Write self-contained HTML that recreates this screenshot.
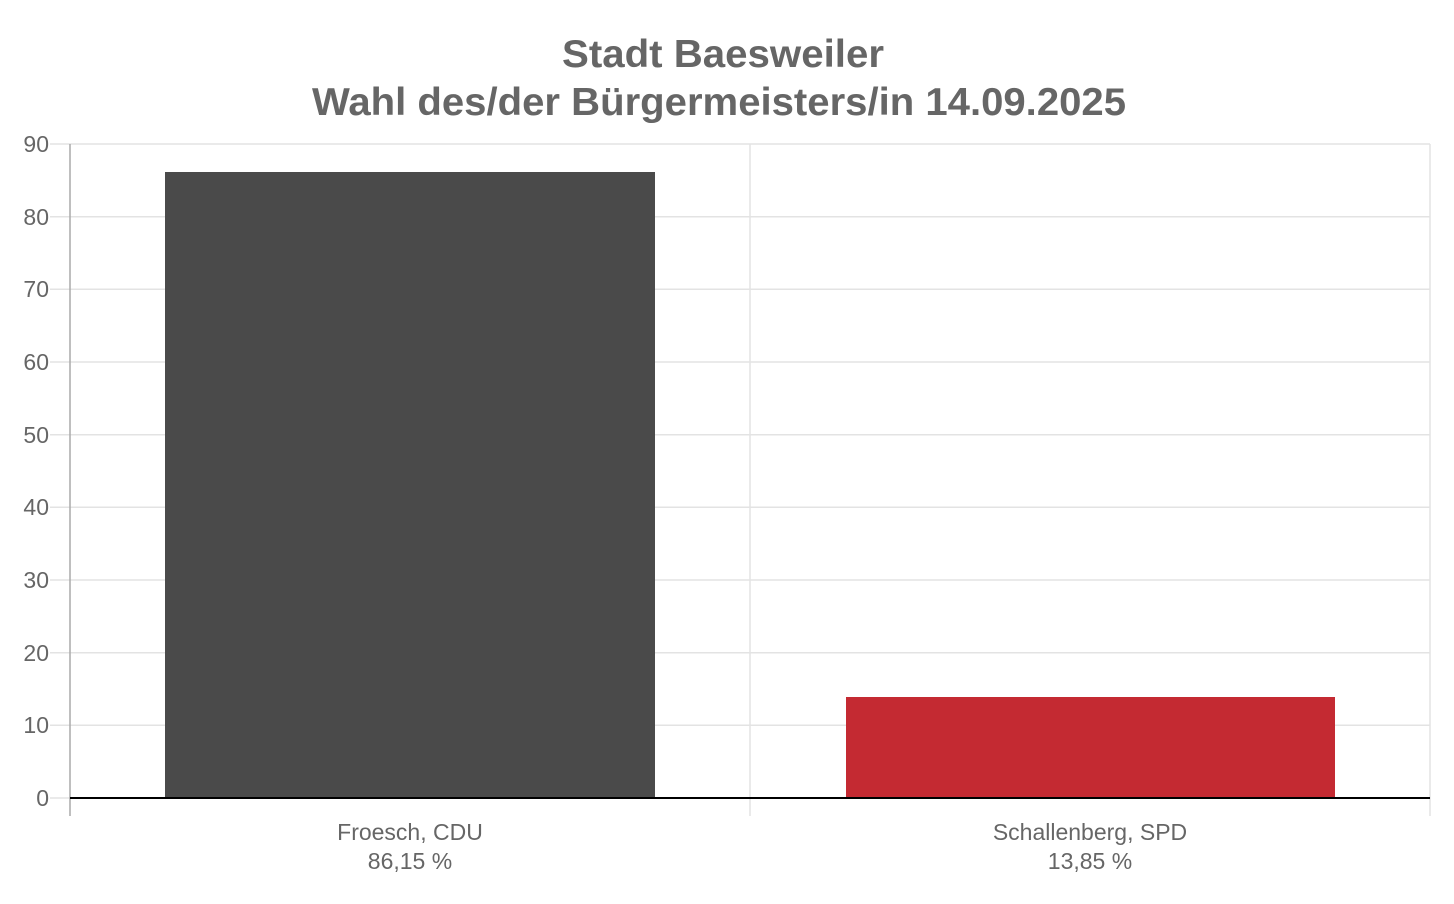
<!DOCTYPE html>
<html><head><meta charset="utf-8"><style>body{margin:0;background:#fff}svg{display:block}</style></head><body>
<svg width="1454" height="904" xmlns="http://www.w3.org/2000/svg" font-family="Liberation Sans, sans-serif">
<rect width="1454" height="904" fill="#fff"/>
<text x="723" y="67" text-anchor="middle" font-size="39" font-weight="bold" fill="#666" textLength="322" lengthAdjust="spacingAndGlyphs">Stadt Baesweiler</text>
<text x="719" y="115" text-anchor="middle" font-size="39" font-weight="bold" fill="#666" textLength="814" lengthAdjust="spacingAndGlyphs">Wahl des/der Bürgermeisters/in 14.09.2025</text>
<g stroke="#e3e3e3" stroke-width="1.5">
<line x1="50" y1="144" x2="1430" y2="144"/><line x1="50" y1="216.7" x2="1430" y2="216.7"/>
<line x1="50" y1="289.3" x2="1430" y2="289.3"/><line x1="50" y1="362" x2="1430" y2="362"/>
<line x1="50" y1="434.7" x2="1430" y2="434.7"/><line x1="50" y1="507.3" x2="1430" y2="507.3"/>
<line x1="50" y1="580" x2="1430" y2="580"/><line x1="50" y1="652.7" x2="1430" y2="652.7"/>
<line x1="50" y1="725.3" x2="1430" y2="725.3"/><line x1="50" y1="798" x2="70" y2="798"/>
<line x1="750" y1="144" x2="750" y2="816"/><line x1="1430" y1="144" x2="1430" y2="816"/>
</g>
<line x1="70" y1="144" x2="70" y2="816" stroke="#aaa" stroke-width="1.5"/>
<rect x="165" y="172" width="490" height="626" fill="#4a4a4a"/>
<rect x="846" y="697" width="489" height="101" fill="#c42a32"/>
<line x1="70" y1="798" x2="1430" y2="798" stroke="#000" stroke-width="2"/>
<g font-size="23" fill="#666" text-anchor="end">
<text x="49" y="152">90</text><text x="49" y="225">80</text><text x="49" y="297">70</text>
<text x="49" y="370">60</text><text x="49" y="443">50</text><text x="49" y="515">40</text>
<text x="49" y="588">30</text><text x="49" y="661">20</text><text x="49" y="733">10</text>
<text x="49" y="806">0</text>
</g>
<g font-size="23" fill="#666" text-anchor="middle">
<text x="410" y="840">Froesch, CDU</text><text x="410" y="869">86,15 %</text>
<text x="1090" y="840">Schallenberg, SPD</text><text x="1090" y="869">13,85 %</text>
</g>
</svg>
</body></html>
